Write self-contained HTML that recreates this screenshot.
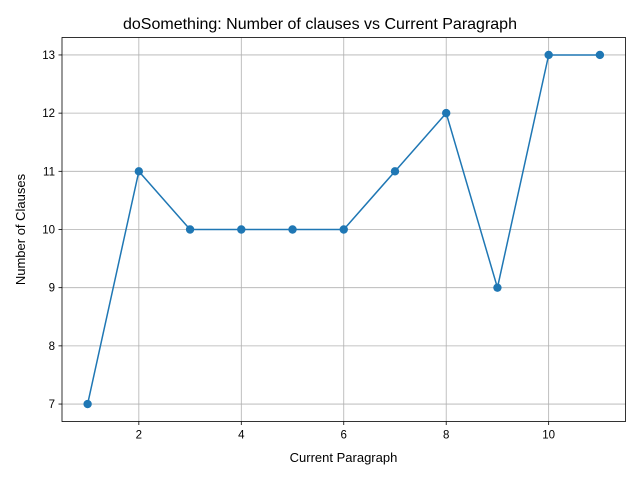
<!DOCTYPE html>
<html><head><meta charset="utf-8"><style>
body{margin:0;background:#fff;}
svg{display:block;font-family:"Liberation Sans","DejaVu Sans",sans-serif;}
</style></head><body>
<svg id="chart" width="640" height="480" viewBox="0 0 640 480">
<rect width="640" height="480" fill="#fff"/>
<g id="grid"></g>
<g id="series"></g>
<rect x="62" y="37.5" width="563.5" height="384" fill="none" stroke="#000" stroke-width="0.8"/>
<g id="xticks"></g>
<g id="yticks"></g>
<text x="320" y="29" text-anchor="middle" font-size="16">doSomething: Number of clauses vs Current Paragraph</text>
<text x="343.5" y="462" text-anchor="middle" font-size="13">Current Paragraph</text>
<text x="25" y="229.5" text-anchor="middle" font-size="13" transform="rotate(-90 25 229.5)">Number of Clauses</text>
</svg>
<script>
const categories=[1,2,3,4,5,6,7,8,9,10,11];
const values=[7,11,10,10,10,10,11,12,9,13,13];
const xTicks=[2,4,6,8,10];
const yTicks=[7,8,9,10,11,12,13];
const L=62,R=625.5,T=37.5,B=421.5;
const xmin=0.5,xmax=11.5,ymin=6.7,ymax=13.3;
const xs=v=>L+(v-xmin)/(xmax-xmin)*(R-L);
const ys=v=>B-(v-ymin)/(ymax-ymin)*(B-T);
const NS="http://www.w3.org/2000/svg";
function mk(tag,attrs,parent){const e=document.createElementNS(NS,tag);for(const k in attrs)e.setAttribute(k,attrs[k]);parent.appendChild(e);return e;}
const grid=document.getElementById('grid'),xt=document.getElementById('xticks'),yt=document.getElementById('yticks'),ser=document.getElementById('series');
xTicks.forEach(t=>{const x=xs(t);
 const g=mk('line',{x1:x,x2:x,y1:T,y2:B,stroke:'#b0b0b0','stroke-width':0.8},grid);
 
 
 mk('line',{x1:x,x2:x,y1:B,y2:B+3.5,stroke:'#000','stroke-width':0.8},xt);
 const tx=mk('text',{x:x,y:B+17,'text-anchor':'middle','font-size':11.5},xt);tx.textContent=t;
 
 
});
yTicks.forEach(t=>{const y=ys(t);
 const g=mk('line',{x1:L,x2:R,y1:y,y2:y,stroke:'#b0b0b0','stroke-width':0.8},grid);
 
 
 mk('line',{x1:L-3.5,x2:L,y1:y,y2:y,stroke:'#000','stroke-width':0.8},yt);
 const tx=mk('text',{x:L-7,y:y+4,'text-anchor':'end','font-size':11.5},yt);tx.textContent=t;
 
 
});
const pts=categories.map((c,i)=>xs(c)+','+ys(values[i])).join(' ');
const pl=mk('polyline',{points:pts,fill:'none',stroke:'#1f77b4','stroke-width':1.5},ser);


categories.forEach((c,i)=>{
 const p=mk('circle',{cx:xs(c),cy:ys(values[i]),r:4.2,fill:'#1f77b4'},ser);
 
 
});
</script>
</body></html>
